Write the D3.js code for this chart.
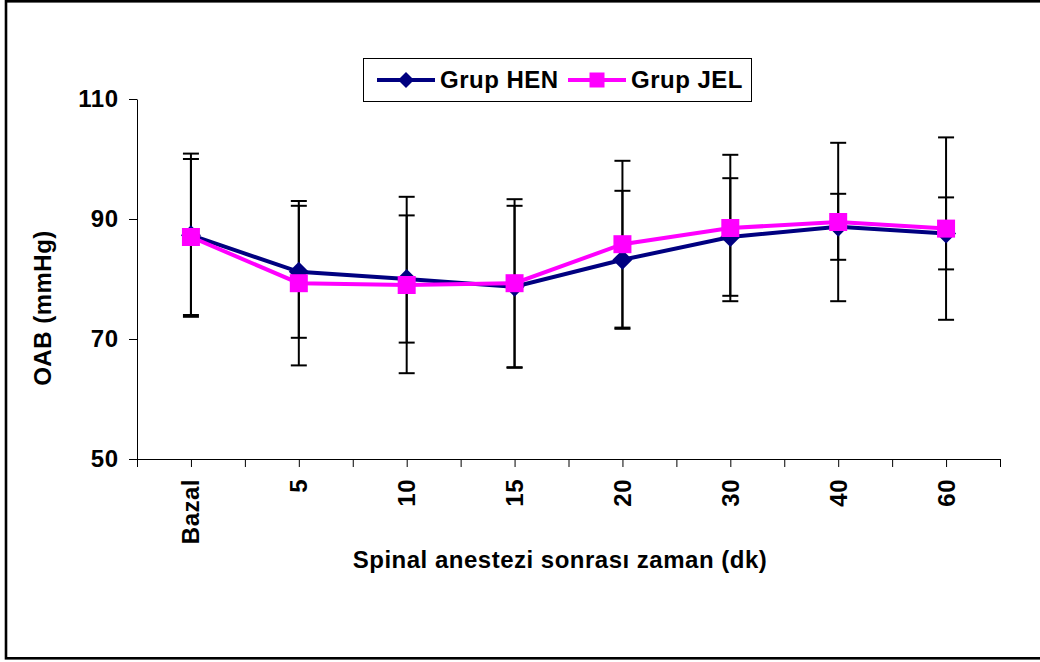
<!DOCTYPE html>
<html>
<head>
<meta charset="utf-8">
<script src="https://cdn.jsdelivr.net/npm/d3@7"></script>
<style>
  body { margin: 0; background: #fff; }
  text { font-family: "Liberation Sans", Arial, sans-serif; font-weight: bold; font-size: 24px; letter-spacing: 0.5px; fill: #000; }
</style>
</head>
<body>
<script>
// data
const categories = ["Bazal", "5", "10", "15", "20", "30", "40", "60"];
const henMean = [87.3, 81.2, 80.0, 78.7, 83.2, 87.0, 88.7, 87.6];
const henSd   = [13.6, 11.0, 10.6, 13.5, 11.5, 9.8, 5.5, 6.0];
const jelMean = [87.0, 79.3, 79.0, 79.3, 85.8, 88.5, 89.5, 88.4];
const jelSd   = [13.0, 13.7, 14.7, 14.0, 13.9, 12.2, 13.2, 15.2];
const yTicks = [50, 70, 90, 110];

const W = 1040, H = 662;
const plot = {left: 137, right: 1000, top: 99, bottom: 459};

const svg = d3.select("body").append("svg")
    .attr("width", W)
    .attr("height", H);

// outer frame
svg.append("rect")
    .attr("x", 6).attr("y", 1.3)
    .attr("width", 1100).attr("height", 657)
    .attr("fill", "none")
    .attr("stroke", "#000")
    .attr("stroke-width", 2.6);

const x = d3.scaleBand().domain(categories).range([plot.left, plot.right]);
const xi = d3.scaleLinear().domain([0, categories.length]).range([plot.left, plot.right]);
const y = d3.scaleLinear().domain([50, 110]).range([plot.bottom, plot.top]);
const cx = d => x(d) + x.bandwidth() / 2;

// y axis
const yAxis = svg.append("g")
    .attr("transform", "translate(" + plot.left + ",0)")
    .call(d3.axisLeft(y).tickValues(yTicks).tickSize(8).tickSizeOuter(0).tickPadding(10.5));
yAxis.attr("font-family", null).attr("font-size", null);
yAxis.select(".domain").attr("stroke", "#000");
yAxis.selectAll("line").attr("stroke", "#000");
yAxis.selectAll("text").attr("dy", "0.33em");

// x axis: ticks at band edges and centres
const xAxis = svg.append("g")
    .attr("transform", "translate(0," + plot.bottom + ")")
    .call(d3.axisBottom(xi).tickValues(d3.range(0, categories.length + 0.5, 0.5)).tickSize(8).tickSizeOuter(0).tickFormat(""));
xAxis.select(".domain").attr("stroke", "#000");
xAxis.selectAll("line").attr("stroke", "#000");

// rotated category labels
svg.append("g").selectAll("text")
    .data(categories)
    .enter().append("text")
    .attr("transform", d => "translate(" + (cx(d) + 8.5) + ",479) rotate(-90)")
    .attr("text-anchor", "end")
    .text(d => d);

// axis titles
svg.append("text")
    .attr("x", 560).attr("y", 568)
    .attr("text-anchor", "middle")
    .text("Spinal anestezi sonrası zaman (dk)");

svg.append("text")
    .attr("transform", "translate(51,308) rotate(-90)")
    .attr("text-anchor", "middle")
    .text("OAB (mmHg)");

const series = [
    {name: "Grup HEN", mean: henMean, sd: henSd, color: "#000080", shape: "diamond"},
    {name: "Grup JEL", mean: jelMean, sd: jelSd, color: "#FF00FF", shape: "square"}
];

// error bars
series.forEach(function(s) {
    const g = svg.append("g").attr("stroke", "#000").attr("stroke-width", 2);
    categories.forEach(function(c, i) {
        const hi = y(s.mean[i] + s.sd[i]), lo = y(s.mean[i] - s.sd[i]);
        g.append("line").attr("x1", cx(c)).attr("x2", cx(c)).attr("y1", hi).attr("y2", lo);
        g.append("line").attr("x1", cx(c) - 8).attr("x2", cx(c) + 8).attr("y1", hi).attr("y2", hi);
        g.append("line").attr("x1", cx(c) - 8).attr("x2", cx(c) + 8).attr("y1", lo).attr("y2", lo);
    });
});

const line = d3.line().x((d, i) => cx(categories[i])).y(d => y(d));

function marker(g, shape, color, px, py, size) {
    if (shape === "diamond") {
        g.append("path")
            .attr("d", "M" + px + "," + (py - size) + "L" + (px + size) + "," + py + "L" + px + "," + (py + size) + "L" + (px - size) + "," + py + "Z")
            .attr("fill", color);
    } else {
        g.append("rect")
            .attr("x", px - size).attr("y", py - size)
            .attr("width", size * 2).attr("height", size * 2)
            .attr("fill", color);
    }
}

series.forEach(function(s) {
    svg.append("path")
        .datum(s.mean)
        .attr("fill", "none")
        .attr("stroke", s.color)
        .attr("stroke-width", 4)
        .attr("d", line);
    const g = svg.append("g");
    s.mean.forEach(function(v, i) {
        marker(g, s.shape, s.color, cx(categories[i]), y(v), s.shape === "diamond" ? 10 : 9);
    });
});

// legend
const legend = svg.append("g");
legend.append("rect")
    .attr("x", 363.5).attr("y", 58.5)
    .attr("width", 388).attr("height", 43)
    .attr("fill", "#fff")
    .attr("stroke", "#000")
    .attr("stroke-width", 1);
const legX = [377, 568];
series.forEach(function(s, i) {
    const lx = legX[i];
    legend.append("line")
        .attr("x1", lx).attr("x2", lx + 58)
        .attr("y1", 80).attr("y2", 80)
        .attr("stroke", s.color).attr("stroke-width", 4);
    marker(legend, s.shape, s.color, lx + 29, 80, s.shape === "diamond" ? 8 : 7.5);
    legend.append("text")
        .attr("x", lx + 63).attr("y", 88)
        .text(s.name);
});
</script>
</body>
</html>
